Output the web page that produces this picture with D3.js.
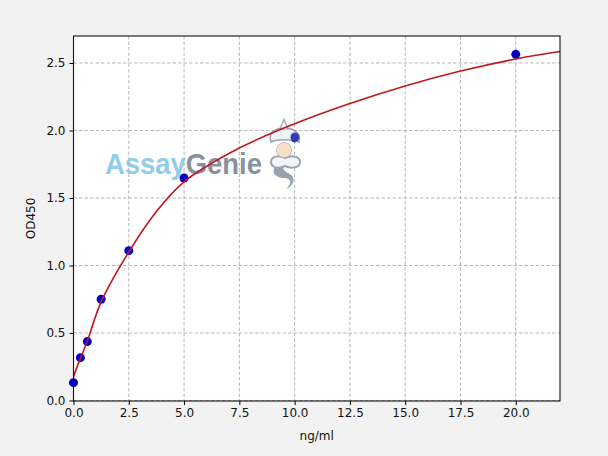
<!DOCTYPE html>
<html>
<head>
<meta charset="utf-8">
<style>
  body { margin: 0; background: #f2f2f2; }
  svg { display: block; }
  .tick text { font-family: "DejaVu Sans", sans-serif; font-size: 12px; fill: #111; }
  .grid line { stroke: #b0b0b0; stroke-dasharray: 3.5,2; stroke-width: 0.9; }
  .axis-label { font-family: "DejaVu Sans", sans-serif; font-size: 12px; fill: #111; }
</style>
</head>
<body>
<svg width="608" height="456"></svg>
<script src="https://d3js.org/d3.v7.min.js"></script>
<script>
// standard points (concentration ng/ml, OD450)
var conc = [0, 0.3125, 0.625, 1.25, 2.5, 5, 10, 20];
var od = [0.132, 0.317, 0.436, 0.750, 1.110, 1.648, 1.945, 2.564];

// fitted curve
var fitX = [0, 0.15, 0.3125, 0.625, 1.25, 2.5, 3.75, 5, 7.5, 10, 12.5, 15, 17.5, 20, 22];
var fitY = [0.172, 0.245, 0.31, 0.44, 0.73, 1.10, 1.40, 1.62, 1.87, 2.05, 2.20, 2.33, 2.44, 2.53, 2.585];

var xTicks = [0, 2.5, 5, 7.5, 10, 12.5, 15, 17.5, 20];
var yTicks = [0, 0.5, 1.0, 1.5, 2.0, 2.5];

var svg = d3.select("svg");
var mLeft = 73.5, mRight = 560, mTop = 36, mBottom = 401;

var x = d3.scaleLinear().domain([0, 22]).range([mLeft, mRight]);
var y = d3.scaleLinear().domain([-0.004, 2.7]).range([mBottom, mTop]);

// plot area
svg.append("rect")
    .attr("x", mLeft).attr("y", mTop)
    .attr("width", mRight - mLeft).attr("height", mBottom - mTop)
    .attr("fill", "#fff");

// grid
var grid = svg.append("g").attr("class", "grid");
grid.selectAll(".gx").data(xTicks).enter().append("line")
    .attr("x1", d => x(d)).attr("x2", d => x(d))
    .attr("y1", mTop).attr("y2", mBottom);
grid.selectAll(".gy").data(yTicks).enter().append("line")
    .attr("x1", mLeft).attr("x2", mRight)
    .attr("y1", d => y(d)).attr("y2", d => y(d));

// points
svg.selectAll(".pt").data(conc).enter().append("circle")
    .attr("cx", d => x(d))
    .attr("cy", (d, i) => y(od[i]))
    .attr("r", 4.5)
    .attr("fill", "#0000c4");

// watermark
var wm = svg.append("g").attr("opacity", 0.9);
var wt = wm.append("text")
    .attr("x", 105).attr("y", 173.5)
    .attr("font-family", "Liberation Sans, Arial, sans-serif")
    .attr("font-weight", "bold")
    .attr("font-size", 30)
    .attr("textLength", 157)
    .attr("lengthAdjust", "spacingAndGlyphs");
wt.append("tspan").attr("fill", "#86c8e8").text("Assay");
wt.append("tspan").attr("fill", "#7b8794").text("Genie");

// little genie figure
var gn = wm.append("g");
gn.append("path")   // tail
    .attr("d", "M276,166 C270,172 276,178 284,178 C292,178 292,184 286,189 C294,186 296,178 290,174 C284,171 282,169 284,166 Z")
    .attr("fill", "#8f9aa8");
gn.append("path")   // folded arms
    .attr("d", "M271,162 C271,156 279,155 285,158 C291,155 300,156 300,162 C300,168 291,169 285,166 C279,169 271,168 271,162 Z")
    .attr("fill", "#f3f5f8").attr("stroke", "#8f9aa8").attr("stroke-width", 2);
gn.append("circle").attr("cx", 284).attr("cy", 150).attr("r", 7.5)
    .attr("fill", "#f7dcc0").attr("stroke", "#a8b0bb").attr("stroke-width", 0.8);
gn.append("path")   // turban
    .attr("d", "M271,142 C268,134 274,128 284,128 C295,128 301,134 299,142 C293,139 277,139 271,142 Z")
    .attr("fill", "#eef2f6").attr("stroke", "#8f9aa8").attr("stroke-width", 1.6);
gn.append("path")   // hands on top
    .attr("d", "M284,119 L280,129 L288,129 Z")
    .attr("fill", "#f3f5f8").attr("stroke", "#8f9aa8").attr("stroke-width", 1.2);
gn.append("circle").attr("cx", 295).attr("cy", 137).attr("r", 4.5)
    .attr("fill", "#3c40b4");

// curve
var fit = fitX.map((d, i) => ({x: d, y: fitY[i]}));
var line = d3.line()
    .x(d => x(d.x))
    .y(d => y(d.y))
    .curve(d3.curveCatmullRom);

svg.append("path")
    .datum(fit)
    .attr("fill", "none")
    .attr("stroke", "#c0171f")
    .attr("stroke-width", 1.6)
    .attr("d", line);

// frame
svg.append("rect")
    .attr("x", mLeft).attr("y", mTop)
    .attr("width", mRight - mLeft).attr("height", mBottom - mTop)
    .attr("fill", "none").attr("stroke", "#111").attr("stroke-width", 1.1);

// axes
svg.append("g")
    .attr("transform", "translate(0," + mBottom + ")")
    .call(d3.axisBottom(x).tickValues(xTicks).tickFormat(d3.format(".1f")).tickSize(4).tickPadding(3))
    .call(g => g.select(".domain").remove());
svg.append("g")
    .attr("transform", "translate(" + mLeft + ",0)")
    .call(d3.axisLeft(y).tickValues(yTicks).tickFormat(d3.format(".1f")).tickSize(4).tickPadding(4))
    .call(g => g.select(".domain").remove());

svg.append("text").attr("class", "axis-label")
    .attr("x", (mLeft + mRight) / 2).attr("y", 440)
    .attr("text-anchor", "middle").text("ng/ml");
svg.append("text").attr("class", "axis-label")
    .attr("transform", "translate(35," + ((mTop + mBottom) / 2) + ") rotate(-90)")
    .attr("text-anchor", "middle").text("OD450");
</script>
</body>
</html>
